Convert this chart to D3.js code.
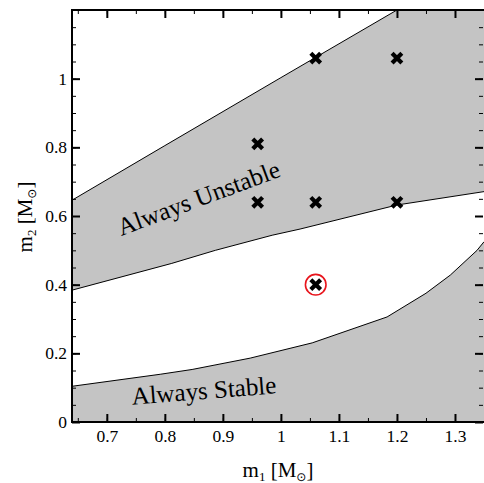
<!DOCTYPE html>
<html><head><meta charset="utf-8">
<script src="https://cdn.jsdelivr.net/npm/d3@7"></script>
<style>
body{margin:0;background:#fff;}
svg{display:block;font-family:"Liberation Serif","Times New Roman",serif;}
</style></head>
<body><svg id="c" width="484" height="483"></svg>
<script>
// ---- data ----
const xDomain = [0.64, 1.35];
const yDomain = [0, 1.2];
const xTicks = [0.7, 0.8, 0.9, 1, 1.1, 1.2, 1.3];
const yTicks = [0, 0.2, 0.4, 0.6, 0.8, 1];
const xTickLabels = ["0.7", "0.8", "0.9", "1", "1.1", "1.2", "1.3"];
const yTickLabels = ["0", "0.2", "0.4", "0.6", "0.8", "1"];
// upper edge of the "Always Unstable" band
const unstableUpper = [[0.64, 0.646], [0.8, 0.805], [1.0, 1.003], [1.2, 1.2]];
// lower edge of the "Always Unstable" band
const unstableLower = [[0.64, 0.384], [0.812, 0.462], [0.887, 0.50], [0.985, 0.544], [1.033, 0.562], [1.2, 0.632], [1.35, 0.671]];
// upper edge of the "Always Stable" region
const stableUpper = [[0.64, 0.104], [0.792, 0.139], [0.847, 0.153], [0.947, 0.186], [1.054, 0.2305], [1.183, 0.306], [1.25, 0.375], [1.292, 0.428], [1.338, 0.50], [1.35, 0.525]];
// simulated systems
const simM1 = [0.96, 1.06, 1.2, 0.96, 1.06, 1.2, 1.06];
const simM2 = [0.81, 1.06, 1.06, 0.64, 0.64, 0.64, 0.40];
const highlight = [1.06, 0.40];

// ---- chart ----
const svg = d3.select("#c");
const L = 72, R = 484, T = 10, B = 422;
const x = d3.scaleLinear().domain(xDomain).range([L, R]);
const y = d3.scaleLinear().domain(yDomain).range([B, T]);
const gray = "#c4c4c4";

svg.append("defs").append("clipPath").attr("id", "clip")
  .append("rect").attr("x", L).attr("y", T).attr("width", R - L).attr("height", B - T);
const plot = svg.append("g").attr("clip-path", "url(#clip)");

const line = d3.line().x(d => x(d[0])).y(d => y(d[1]));

// unstable band polygon
const unstablePoly = [[xDomain[0], yDomain[1]]].concat(unstableUpper)
  .concat([[xDomain[1], yDomain[1]]])
  .concat(unstableLower.slice().reverse());
plot.append("path").attr("d", line(unstablePoly) + "Z").attr("fill", gray).attr("stroke", "none");
// stable region polygon
const stablePoly = stableUpper.concat([[xDomain[1], 0], [xDomain[0], 0]]);
plot.append("path").attr("d", line(stablePoly) + "Z").attr("fill", gray).attr("stroke", "none");

[unstableUpper, unstableLower, stableUpper].forEach(b => {
  plot.append("path").attr("d", line(b)).attr("fill", "none").attr("stroke", "#000").attr("stroke-width", 1);
});

// region labels
svg.append("text").attr("transform", "translate(201.5,206) rotate(-20.4)")
  .attr("text-anchor", "middle").attr("font-size", 25).attr("fill", "#000").text("Always Unstable");
svg.append("text").attr("transform", "translate(204.5,399) rotate(-4.6)")
  .attr("text-anchor", "middle").attr("font-size", 25).attr("fill", "#000").text("Always Stable");

// markers
const pts = simM1.map((m, i) => [m, simM2[i]]);
const cs = 3.4;
plot.selectAll("path.mk").data(pts).join("path").attr("class", "mk")
  .attr("d", d => `M${x(d[0]) - cs},${y(d[1]) - cs}L${x(d[0]) + cs},${y(d[1]) + cs}M${x(d[0]) - cs},${y(d[1]) + cs}L${x(d[0]) + cs},${y(d[1]) - cs}`)
  .attr("stroke", "#000").attr("stroke-width", 4.2).attr("stroke-linecap", "square").attr("fill", "none");
plot.append("circle").attr("cx", x(highlight[0])).attr("cy", y(highlight[1])).attr("r", 10.3)
  .attr("fill", "none").attr("stroke", "#e8141c").attr("stroke-width", 1.6);

// axes
const minorX = d3.range(0.65, 1.351, 0.05).map(v => +v.toFixed(2));
const minorY = d3.range(0.05, 1.2, 0.05).map(v => +v.toFixed(2));
function styleAxis(g, major) {
  g.select(".domain").remove();
  g.selectAll(".tick line").attr("stroke", "#000").attr("stroke-width", major ? 2 : 1);
  g.selectAll("text").attr("font-family", '"Liberation Serif","Times New Roman",serif').attr("font-size", 17.5).attr("fill", "#000");
}
// bottom
svg.append("g").attr("transform", `translate(0,${B})`)
  .call(d3.axisBottom(x).tickValues(minorX).tickSize(-4).tickFormat("")).call(g => styleAxis(g, false));
svg.append("g").attr("transform", `translate(0,${B})`)
  .call(d3.axisBottom(x).tickValues(xTicks).tickSize(-8).tickPadding(8).tickFormat((d, i) => xTickLabels[i])).call(g => styleAxis(g, true));
// top
svg.append("g").attr("transform", `translate(0,${T})`)
  .call(d3.axisTop(x).tickValues(minorX).tickSize(-4).tickFormat("")).call(g => styleAxis(g, false));
svg.append("g").attr("transform", `translate(0,${T})`)
  .call(d3.axisTop(x).tickValues(xTicks).tickSize(-8).tickFormat("")).call(g => styleAxis(g, true));
// left
svg.append("g").attr("transform", `translate(${L},0)`)
  .call(d3.axisLeft(y).tickValues(minorY).tickSize(-4).tickFormat("")).call(g => styleAxis(g, false));
svg.append("g").attr("transform", `translate(${L},0)`)
  .call(d3.axisLeft(y).tickValues(yTicks).tickSize(-8).tickPadding(5).tickFormat((d, i) => yTickLabels[i])).call(g => styleAxis(g, true));
// right
svg.append("g").attr("transform", `translate(${R - 1},0)`)
  .call(d3.axisRight(y).tickValues(minorY).tickSize(-4).tickFormat("")).call(g => styleAxis(g, false));
svg.append("g").attr("transform", `translate(${R - 1},0)`)
  .call(d3.axisRight(y).tickValues(yTicks).tickSize(-8).tickFormat("")).call(g => styleAxis(g, true));

// frame lines
svg.append("line").attr("x1", L).attr("x2", R).attr("y1", B).attr("y2", B).attr("stroke", "#000").attr("stroke-width", 2);
svg.append("line").attr("x1", L).attr("x2", R).attr("y1", T).attr("y2", T).attr("stroke", "#000").attr("stroke-width", 2);
svg.append("line").attr("x1", L).attr("x2", L).attr("y1", T - 1).attr("y2", B + 1).attr("stroke", "#000").attr("stroke-width", 2);

// axis titles
const xt = svg.append("text").attr("x", 278).attr("y", 477).attr("text-anchor", "middle").attr("font-size", 21).attr("fill", "#000");
xt.append("tspan").text("m");
xt.append("tspan").attr("font-size", 13).attr("dy", 4).text("1");
xt.append("tspan").attr("dy", -4).text(" [M");
xt.append("tspan").attr("font-size", 12).attr("dy", 4).attr("font-family", "DejaVu Sans").text("⊙");
xt.append("tspan").attr("dy", -4).text("]");

const yt = svg.append("text").attr("transform", "translate(32,217) rotate(-90)").attr("text-anchor", "middle").attr("font-size", 21).attr("fill", "#000");
yt.append("tspan").text("m");
yt.append("tspan").attr("font-size", 13).attr("dy", 4).text("2");
yt.append("tspan").attr("dy", -4).text(" [M");
yt.append("tspan").attr("font-size", 12).attr("dy", 4).attr("font-family", "DejaVu Sans").text("⊙");
yt.append("tspan").attr("dy", -4).text("]");
</script></body></html>
